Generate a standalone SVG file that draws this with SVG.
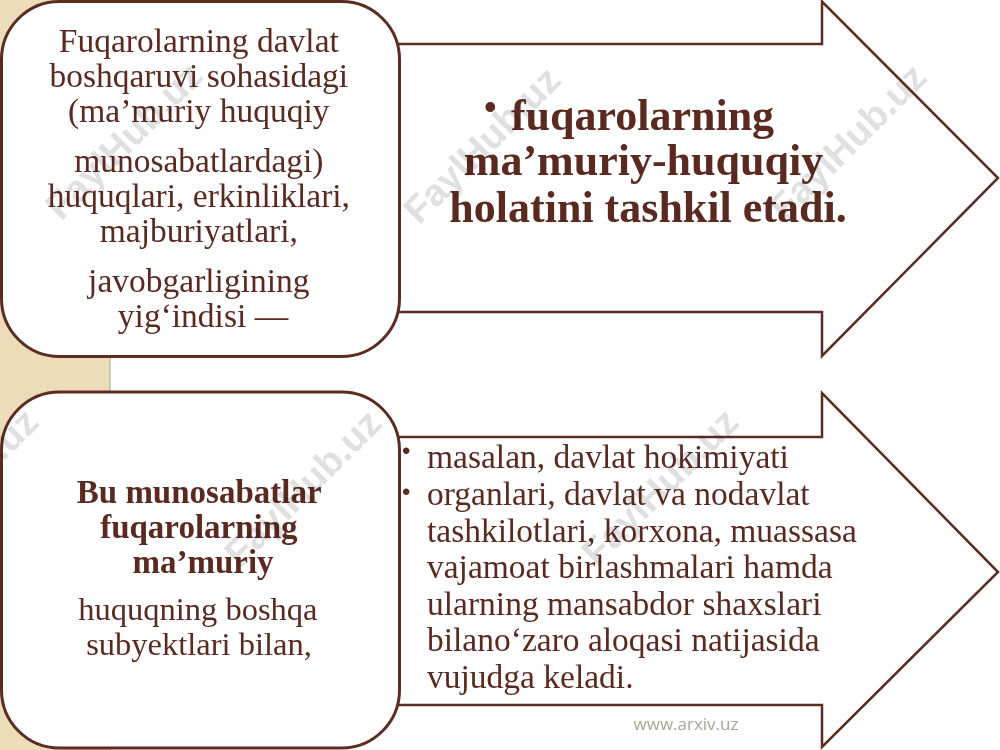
<svg xmlns="http://www.w3.org/2000/svg" width="1000" height="750" viewBox="0 0 1000 750">
  <style>
    .shape { fill: #ffffff; stroke: #5b2c22; stroke-linejoin: miter; }
    .box { stroke-width: 3; }
    .arrow { stroke-width: 2.5; }
    .t { font-family: "Liberation Serif", "Times New Roman", serif; fill: #5a2a20; }
    .reg { font-size: 33.5px; }
    .bold { font-weight: bold; }
    .bul { font-family: "Liberation Sans", Arial, sans-serif; fill: #5a2a20; }
    .wm { font-family: "Liberation Sans", Arial, sans-serif; font-weight: bold; font-size: 38px; fill: #e0e0e0; mix-blend-mode: multiply; }
    .url { font-family: "Open Sans", "Liberation Sans", sans-serif; font-size: 17px; fill: #a5a596; }
  </style>

  <rect id="background" x="0" y="0" width="1000" height="750" fill="#ffffff"/>
  <g id="side-strip">
    <rect x="0" y="0" width="110" height="750" fill="#ecdcb9"/>
    <line x1="110" y1="0" x2="110" y2="750" stroke="#c4bf9f" stroke-width="1.5"/>
  </g>

  <g id="connectors">
    <path id="arrow-top" class="shape arrow" d="M 390,44 L 822,44 L 822,1.5 L 998,178 L 822,356 L 822,312 L 390,312 Z"/>
    <path id="arrow-bottom" class="shape arrow" d="M 390,437 L 822,437 L 822,393 L 998,572 L 822,747 L 822,705 L 390,705 Z"/>
  </g>

  <g id="node-top-box">
    <rect class="shape box" x="1.5" y="1.5" width="398" height="355" rx="58" ry="58"/>
    <text class="t reg" text-anchor="middle">
      <tspan x="203" y="52">Fuqarolarning davlat</tspan>
      <tspan x="203" y="87">boshqaruvi sohasidagi</tspan>
      <tspan x="203" y="122">(ma’muriy huquqiy</tspan>
      <tspan x="203" y="172">munosabatlardagi)</tspan>
      <tspan x="203" y="207">huquqlari, erkinliklari,</tspan>
      <tspan x="203" y="242">majburiyatlari,</tspan>
      <tspan x="203" y="292">javobgarligining</tspan>
      <tspan x="203" y="327">yig‘indisi —</tspan>
    </text>
  </g>

  <g id="node-top-arrow-text">
    <text class="bul" x="484" y="119" font-size="36">•</text>
    <text class="t bold" font-size="44" text-anchor="middle">
      <tspan x="648" y="130">fuqarolarning</tspan>
      <tspan x="649" y="175">ma’muriy-huquqiy</tspan>
      <tspan x="648" y="222">holatini tashkil etadi.</tspan>
    </text>
  </g>

  <g id="node-bottom-box">
    <rect class="shape box" x="1.5" y="392" width="398" height="356" rx="58" ry="58"/>
    <text class="t bold" font-size="33" text-anchor="middle">
      <tspan x="203" y="503">Bu munosabatlar</tspan>
      <tspan x="203" y="538">fuqarolarning</tspan>
      <tspan x="203" y="573">ma’muriy</tspan>
    </text>
    <text class="t" font-size="32.5" text-anchor="middle">
      <tspan x="202" y="620">huquqning boshqa</tspan>
      <tspan x="199" y="655">subyektlari bilan,</tspan>
    </text>
  </g>

  <g id="node-bottom-arrow-text">
    <text class="bul" x="402" y="459" font-size="24">•</text>
    <text class="bul" x="402" y="500" font-size="24">•</text>
    <text class="t reg" x="427">
      <tspan x="427" y="468">masalan, davlat hokimiyati</tspan>
      <tspan x="427" y="505">organlari, davlat va nodavlat</tspan>
      <tspan x="427" y="542">tashkilotlari, korxona, muassasa</tspan>
      <tspan x="427" y="578">vajamoat birlashmalari hamda</tspan>
      <tspan x="427" y="615">ularning mansabdor shaxslari</tspan>
      <tspan x="427" y="651">bilano‘zaro aloqasi natijasida</tspan>
      <tspan x="427" y="688">vujudga keladi.</tspan>
    </text>
  </g>

  <g id="watermarks">
    <text class="wm" text-anchor="middle" transform="translate(133,150) rotate(-45)">FaylHub.uz</text>
    <text class="wm" text-anchor="middle" transform="translate(491,154) rotate(-45)">FaylHub.uz</text>
    <text class="wm" text-anchor="middle" transform="translate(857,151) rotate(-45)">FaylHub.uz</text>
    <text class="wm" text-anchor="middle" transform="translate(-31,496) rotate(-45)">FaylHub.uz</text>
    <text class="wm" text-anchor="middle" transform="translate(312,497) rotate(-45)">FaylHub.uz</text>
    <text class="wm" text-anchor="middle" transform="translate(669,496) rotate(-45)">FaylHub.uz</text>
  </g>

  <text id="footer-url" class="url" x="686" y="730" text-anchor="middle">www.arxiv.uz</text>
</svg>
